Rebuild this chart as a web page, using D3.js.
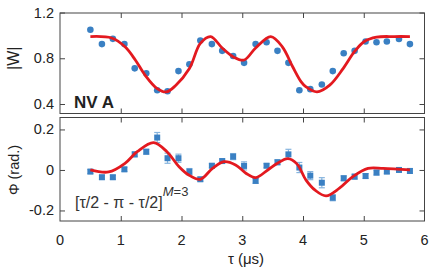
<!DOCTYPE html>
<html>
<head>
<meta charset="utf-8">
<script src="https://cdn.jsdelivr.net/npm/d3@7"></script>
<style>
  body { margin: 0; background: #fff; }
  text { font-family: "Liberation Sans", Arial, sans-serif; fill: #222; }
</style>
</head>
<body>
<div id="chart"></div>
<script>
// measured delays (us)
var tau = [0.5, 0.69, 0.87, 1.06, 1.23, 1.42, 1.6, 1.77, 1.95, 2.13, 2.31, 2.5, 2.67, 2.85, 3.03,
           3.22, 3.4, 3.58, 3.76, 3.94, 4.12, 4.31, 4.49, 4.67, 4.85, 5.03, 5.21, 5.38, 5.58, 5.76];
// |W| data
var wAbs = [1.05, 0.924, 0.97, 0.924, 0.712, 0.668, 0.52, 0.512, 0.688, 0.747, 0.955, 0.924, 0.865, 0.82, 0.76,
            0.924, 0.94, 0.865, 0.76, 0.52, 0.53, 0.57, 0.688, 0.844, 0.865, 0.947, 0.94, 0.947, 0.968, 0.924];
// phase data and error bars
var phi = [-0.008, -0.036, -0.036, 0.003, 0.077, 0.09, 0.16, 0.058, 0.058, -0.008, -0.046, 0.021, 0.044, 0.066, 0.02,
           -0.054, 0.021, 0.038, 0.077, 0.012, -0.028, -0.063, -0.137, -0.041, -0.033, -0.03, -0.013, -0.008, 0, -0.005];
var phiErr = [0.01, 0.01, 0.01, 0.01, 0.012, 0.012, 0.025, 0.025, 0.02, 0.015, 0.01, 0.01, 0.01, 0.015, 0.02,
              0.012, 0.01, 0.012, 0.025, 0.025, 0.02, 0.025, 0.015, 0.012, 0.012, 0.012, 0.012, 0.01, 0.01, 0.012];

// fit curves
var fitWt = [0.5, 0.85, 1.07, 1.24, 1.4, 1.6, 1.75, 1.9, 2.13, 2.31, 2.48, 2.67, 2.86, 3.03, 3.22, 3.47, 3.66, 3.83, 3.97, 4.05, 4.23, 4.44, 4.66, 4.85, 5.01, 5.21, 5.5, 5.76];
var fitW  = [0.99, 0.977, 0.9, 0.785, 0.653, 0.535, 0.506, 0.56, 0.71, 0.93, 0.99, 0.89, 0.81, 0.785, 0.89, 0.99, 0.9, 0.726, 0.594, 0.55, 0.506, 0.565, 0.71, 0.86, 0.947, 0.985, 0.99, 0.99];
var fitPt = [0.5, 0.8, 1.07, 1.27, 1.54, 1.76, 1.96, 2.12, 2.31, 2.51, 2.7, 2.89, 3.06, 3.22, 3.42, 3.58, 3.75, 3.9, 4.05, 4.2, 4.38, 4.6, 4.82, 5.07, 5.32, 5.76];
var fitP  = [0, -0.01, 0.033, 0.09, 0.135, 0.09, 0.016, -0.025, -0.046, 0.008, 0.041, 0.025, -0.016, -0.038, 0, 0.033, 0.056, 0.03, -0.05, -0.1, -0.128, -0.09, -0.033, 0.008, 0.008, 0];

var xTicks = [0, 1, 2, 3, 4, 5, 6];
var wTicks = [0.4, 0.8, 1.2];
var pTicks = [-0.2, 0, 0.2];

var width = 436, height = 274;
var left = 60, right = 424.5;
var top1 = 13, bot1 = 113.5, top2 = 117.5, bot2 = 221;

var blue = "#3a80c3", red = "#e3191f", frame = "#444";

var svg = d3.select("#chart").append("svg")
    .attr("width", width)
    .attr("height", height);

var x = d3.scaleLinear().domain([0, 6]).range([left, right]);
var y1 = d3.scaleLinear().domain([0.317, 1.196]).range([bot1, top1]);
var y2 = d3.scaleLinear().domain([-0.252, 0.259]).range([bot2, top2]);

function panel(y, top, bot, yTicks, fmt) {
  var g = svg.append("g");
  // inward ticks on all four sides
  g.append("g").attr("transform", "translate(0," + bot + ")")
    .call(d3.axisTop(x).tickValues(xTicks.slice(1, 6)).tickSize(5).tickFormat(""));
  g.append("g").attr("transform", "translate(0," + top + ")")
    .call(d3.axisBottom(x).tickValues(xTicks.slice(1, 6)).tickSize(5).tickFormat(""));
  g.append("g").attr("transform", "translate(" + left + ",0)")
    .call(d3.axisRight(y).tickValues(yTicks).tickSize(5).tickFormat(""));
  g.append("g").attr("transform", "translate(" + right + ",0)")
    .call(d3.axisLeft(y).tickValues(yTicks).tickSize(5).tickFormat(""));
  g.selectAll(".domain").remove();
  g.selectAll(".tick line").attr("stroke", frame).attr("stroke-width", 1);
  g.append("rect")
    .attr("x", left).attr("y", top)
    .attr("width", right - left).attr("height", bot - top)
    .attr("fill", "none").attr("stroke", frame).attr("stroke-width", 1);
  // y tick labels
  g.selectAll(".ylab").data(yTicks).enter().append("text")
    .attr("x", left - 6).attr("y", function(d) { return y(d) + 5; })
    .attr("text-anchor", "end").style("font-size", "14.5px")
    .text(fmt);
  return g;
}

panel(y1, top1, bot1, wTicks, function(d) { return d.toFixed(1); });
panel(y2, top2, bot2, pTicks, function(d) { return d === 0 ? "0" : d.toFixed(1); });

// x tick labels
svg.selectAll(".xlab").data(xTicks).enter().append("text")
  .attr("x", function(d) { return x(d); }).attr("y", 245)
  .attr("text-anchor", "middle").style("font-size", "14.5px")
  .text(function(d) { return d; });

svg.append("text").attr("x", 246).attr("y", 264)
  .attr("text-anchor", "middle").style("font-size", "15px")
  .text("τ (μs)");

svg.append("text")
  .attr("transform", "translate(19," + (y1(0.8)) + ")rotate(-90)")
  .attr("text-anchor", "middle").style("font-size", "16px")
  .text("|W|");
svg.append("text")
  .attr("transform", "translate(19," + (y2(0)) + ")rotate(-90)")
  .attr("text-anchor", "middle").style("font-size", "14.5px")
  .text("Φ (rad.)");

svg.append("text").attr("x", 74).attr("y", 108)
  .style("font-size", "17px").style("font-weight", "bold")
  .text("NV A");

var seq = svg.append("text").attr("x", 75).attr("y", 208).style("font-size", "16px").style("fill", "#333");
seq.append("tspan").text("[τ/2 - π - τ/2]");
seq.append("tspan").attr("dy", -12).style("font-style", "italic").style("font-size", "13px").text("M");
seq.append("tspan").style("font-size", "13px").text("=3");

// top panel points
svg.append("g").selectAll("circle").data(tau).enter().append("circle")
  .attr("cx", function(d) { return x(d); })
  .attr("cy", function(d, i) { return y1(wAbs[i]); })
  .attr("r", 3.3).attr("fill", blue);

var line1 = d3.line().curve(d3.curveCatmullRom.alpha(0.5))
  .x(function(d) { return x(d); })
  .y(function(d, i) { return y1(fitW[i]); });
svg.append("path").datum(fitWt).attr("d", line1)
  .attr("fill", "none").attr("stroke", red).attr("stroke-width", 2.8);

// bottom panel error bars and squares
var eb = svg.append("g").attr("stroke", "#86b4de").attr("stroke-width", 1.2);
tau.forEach(function(t, i) {
  var cx = x(t), hi = y2(phi[i] + phiErr[i]), lo = y2(phi[i] - phiErr[i]);
  eb.append("line").attr("x1", cx).attr("x2", cx).attr("y1", hi).attr("y2", lo);
  eb.append("line").attr("x1", cx - 3).attr("x2", cx + 3).attr("y1", hi).attr("y2", hi);
  eb.append("line").attr("x1", cx - 3).attr("x2", cx + 3).attr("y1", lo).attr("y2", lo);
});
svg.append("g").selectAll("rect").data(tau).enter().append("rect")
  .attr("x", function(d) { return x(d) - 3; })
  .attr("y", function(d, i) { return y2(phi[i]) - 3; })
  .attr("width", 6).attr("height", 6).attr("fill", blue);

var line2 = d3.line().curve(d3.curveCatmullRom.alpha(0.5))
  .x(function(d) { return x(d); })
  .y(function(d, i) { return y2(fitP[i]); });
svg.append("path").datum(fitPt).attr("d", line2)
  .attr("fill", "none").attr("stroke", red).attr("stroke-width", 2.8);
</script>
</body>
</html>
